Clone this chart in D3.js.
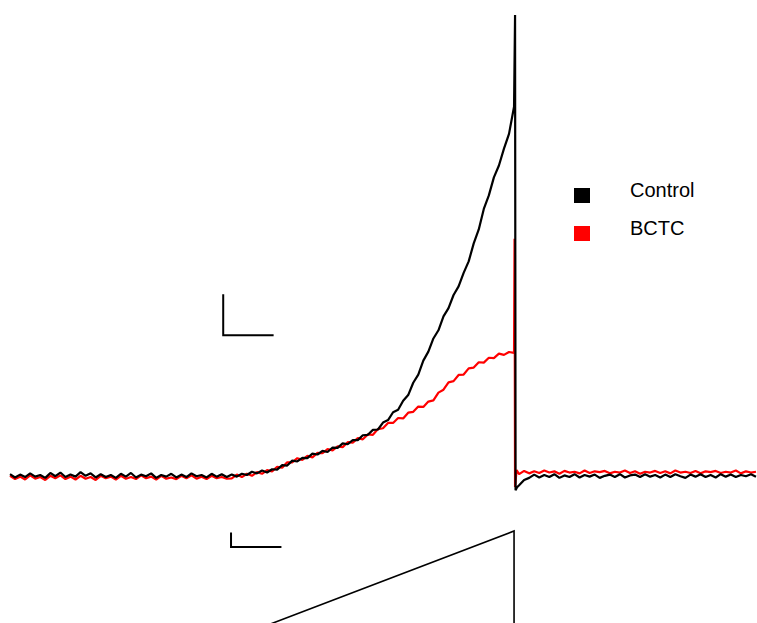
<!DOCTYPE html>
<html>
<head>
<meta charset="utf-8">
<script src="https://cdn.jsdelivr.net/npm/d3@7"></script>
<style>
  html, body { margin: 0; padding: 0; background: #fff; }
  svg { display: block; }
</style>
</head>
<body>
<svg id="chart" width="757" height="623"></svg>
<script>
// ---------------- DATA ----------------
const seriesNames = ["Control", "BCTC"];
const seriesColors = ["#000000", "#ff0000"];

const sampleMs = 10;               // sampling interval of the stored traces (ms)
const baselineStartMs = 0;
const rampStartMs = 440;
const postStartMs = 1010;

// current (nA), holding period before the current activates
const controlBaseline = [0.02, -0.06, 0.01, -0.05, 0.04, -0.04, 0.00, -0.07, 0.05, -0.03,
  0.06, -0.05, 0.01, -0.04, 0.07, -0.02, 0.04, -0.06, 0.02, -0.05,
  0.00, -0.07, 0.03, -0.04, 0.05, -0.06, 0.01, -0.03, 0.04, -0.07,
  0.00, -0.04, 0.03, -0.06, 0.01, -0.05, 0.04, -0.03, 0.00, -0.06,
  0.03, -0.04, 0.02, -0.05];
const bctcBaseline = [-0.02, -0.10, -0.04, -0.11, -0.01, -0.09, -0.05, -0.12, -0.02, -0.08,
  -0.01, -0.10, -0.04, -0.11, -0.02, -0.09, -0.05, -0.12, -0.02, -0.08,
  -0.04, -0.11, -0.02, -0.09, -0.05, -0.10, -0.01, -0.08, -0.04, -0.11,
  -0.02, -0.09, -0.06, -0.10, -0.02, -0.08, -0.01, -0.09, -0.04, -0.10,
  -0.02, -0.08, -0.05, -0.09];

// current (nA) during the rising part of the voltage ramp, 440..1000 ms
const controlRamp = [0.01, -0.04, 0.03, 0.00, 0.08, 0.04, 0.11, 0.06, 0.14, 0.13,
  0.24, 0.23, 0.35, 0.33, 0.42, 0.41, 0.52, 0.50, 0.59, 0.56,
  0.67, 0.66, 0.77, 0.75, 0.85, 0.85, 0.97, 0.98, 1.10, 1.11,
  1.28, 1.34, 1.53, 1.59, 1.81, 1.95, 2.25, 2.45, 2.79, 3.01,
  3.33, 3.53, 3.87, 4.07, 4.39, 4.60, 4.93, 5.21, 5.65, 5.99,
  6.49, 6.82, 7.26, 7.55, 7.96, 8.32, 8.98];
const bctcRamp = [-0.08, 0.01, -0.05, 0.03, -0.02, 0.07, 0.03, 0.12, 0.09, 0.20,
  0.18, 0.31, 0.31, 0.41, 0.37, 0.47, 0.43, 0.54, 0.53, 0.63,
  0.60, 0.70, 0.68, 0.80, 0.79, 0.90, 0.87, 0.99, 0.98, 1.12,
  1.14, 1.27, 1.27, 1.39, 1.38, 1.52, 1.54, 1.67, 1.66, 1.79,
  1.82, 2.01, 2.08, 2.26, 2.29, 2.44, 2.45, 2.60, 2.62, 2.75,
  2.74, 2.86, 2.85, 2.96, 2.93, 3.00, 2.98];

// capacitive transient at the end of the ramp
const controlSpikeTimes = [1002, 1003, 1006];
const controlSpike = [11.22, -0.37, -0.30];
const bctcSpikeTimes = [1001, 1002, 1005];
const bctcSpike = [5.76, -0.29, 0.12];

// current (nA) after returning to holding potential, 1010..1480 ms
const controlPost = [-0.25, -0.12, -0.07, 0.01, -0.06, 0.00, -0.05, 0.02, -0.07, -0.01,
  -0.05, 0.02, -0.06, 0.00, -0.04, 0.01, -0.07, -0.02, 0.01, -0.05,
  0.02, -0.06, -0.01, 0.01, -0.05, 0.02, -0.04, 0.00, -0.06, 0.01,
  -0.05, 0.02, -0.03, -0.07, 0.01, -0.04, 0.02, -0.05, 0.00, -0.06,
  0.02, -0.04, 0.01, -0.05, 0.00, -0.03, 0.02, -0.04];
const bctcPost = [0.02, 0.10, 0.04, 0.09, 0.05, 0.11, 0.06, 0.09, 0.03, 0.10,
  0.06, 0.08, 0.04, 0.11, 0.05, 0.09, 0.07, 0.10, 0.04, 0.08,
  0.06, 0.11, 0.05, 0.09, 0.03, 0.08, 0.06, 0.10, 0.05, 0.09,
  0.04, 0.11, 0.06, 0.08, 0.05, 0.10, 0.04, 0.09, 0.07, 0.10,
  0.05, 0.08, 0.06, 0.11, 0.04, 0.09, 0.06, 0.08];

// voltage protocol (mV)
const rampTimes = [0, 1000, 1000, 1482];
const rampVoltages = [-100, 100, -60, -60];

// scale bars
const currentBarNA = 1;
const timeBarMs = 100;
const voltageBarMV = 15;

// ---------------- BUILD ----------------
function segment(values, startMs) {
  return values.map((v, i) => ({ t: startMs + i * sampleMs, v }));
}
function spikeSeg(times, values) {
  return times.map((t, i) => ({ t, v: values[i] }));
}
const controlTrace = [].concat(
  segment(controlBaseline, baselineStartMs),
  segment(controlRamp, rampStartMs),
  spikeSeg(controlSpikeTimes, controlSpike),
  segment(controlPost, postStartMs));
const bctcTrace = [].concat(
  segment(bctcBaseline, baselineStartMs),
  segment(bctcRamp, rampStartMs),
  spikeSeg(bctcSpikeTimes, bctcSpike),
  segment(bctcPost, postStartMs));
const traces = [bctcTrace, controlTrace];
const traceColors = [seriesColors[1], seriesColors[0]];

// ---------------- DRAW ----------------
const svg = d3.select("#chart");
const W = 757, H = 623;

const x = d3.scaleLinear().domain([0, 1482]).range([10, 757]);
const yI = d3.scaleLinear().domain([-1, 11]).range([516, 24]);
const yV = d3.scaleLinear().domain([-100, 100]).range([723.4, 531]);

svg.append("defs").append("clipPath").attr("id", "clip")
  .append("rect").attr("x", 0).attr("y", 0).attr("width", W).attr("height", H);

const g = svg.append("g").attr("clip-path", "url(#clip)");

const lineI = d3.line().x(d => x(d.t)).y(d => yI(d.v));

traces.forEach((tr, i) => {
  g.append("path")
    .datum(tr)
    .attr("d", lineI)
    .attr("fill", "none")
    .attr("stroke", traceColors[i])
    .attr("stroke-width", 2.2)
    .attr("stroke-linejoin", "bevel");
});

// voltage ramp
const rampData = rampTimes.map((t, i) => ({ t, v: rampVoltages[i] }));
g.append("path")
  .datum(rampData)
  .attr("d", d3.line().x(d => x(d.t)).y(d => yV(d.v)))
  .attr("fill", "none")
  .attr("stroke", "#000")
  .attr("stroke-width", 1.6);

// current/time scale bar
const barCornerT = 423, barCornerI = 3.41;
g.append("path")
  .attr("d", d3.line()([
    [x(barCornerT), yI(barCornerI + currentBarNA)],
    [x(barCornerT), yI(barCornerI)],
    [x(barCornerT + timeBarMs), yI(barCornerI)]
  ]))
  .attr("fill", "none").attr("stroke", "#000").attr("stroke-width", 2);

// voltage/time scale bar
const vBarT = 438.5, vBarV = 83.4;
g.append("path")
  .attr("d", d3.line()([
    [x(vBarT), yV(vBarV + voltageBarMV)],
    [x(vBarT), yV(vBarV)],
    [x(vBarT + timeBarMs), yV(vBarV)]
  ]))
  .attr("fill", "none").attr("stroke", "#000").attr("stroke-width", 2);

// legend
const legend = svg.append("g");
seriesNames.forEach((name, i) => {
  const yy = 188 + i * 38;
  legend.append("rect")
    .attr("x", 574).attr("y", yy).attr("width", 16).attr("height", 15)
    .attr("fill", seriesColors[i]);
  legend.append("text")
    .attr("x", 630).attr("y", yy + 9)
    .attr("font-family", "Liberation Sans, Arial, sans-serif")
    .attr("font-size", 20)
    .attr("fill", "#000")
    .text(name);
});
</script>
</body>
</html>
